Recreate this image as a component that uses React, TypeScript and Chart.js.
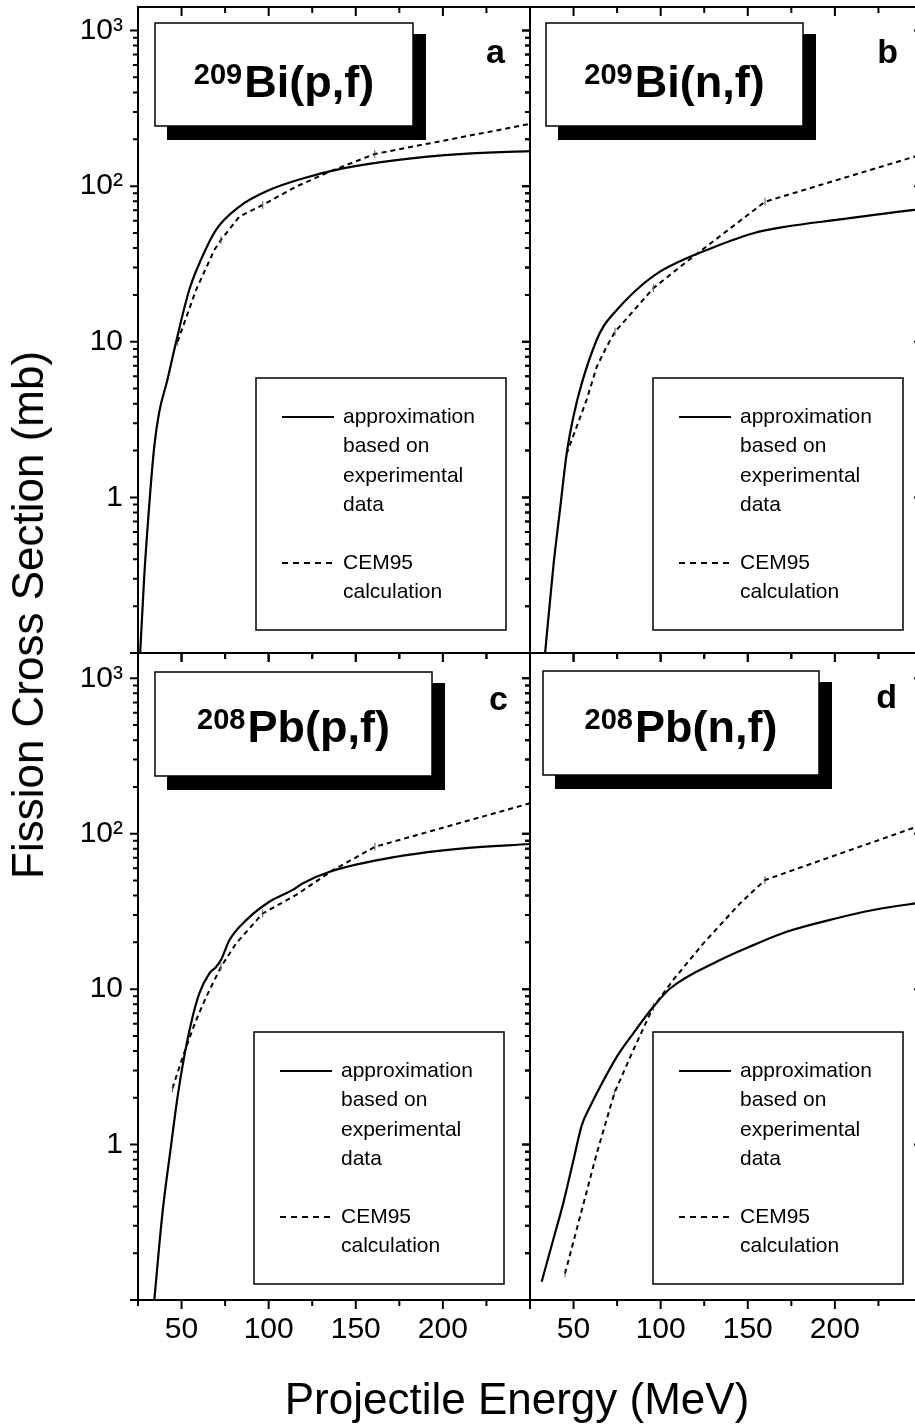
import React, { useEffect, useRef } from 'react';
import { Chart, registerables } from 'chart.js';

Chart.register(...registerables);

const FONT = '"Liberation Sans", Arial, Helvetica, sans-serif';

// ---------- axes ----------
const X_MIN = 25;
const X_MAX = 250;
const X_TICK_VALUES = [25, 50, 75, 100, 125, 150, 175, 200, 225, 250];
const X_TICK_LABELS = ['', '50', '', '100', '', '150', '', '200', '', ''];
const Y_MIN = 0.1;
const Y_MAX_TOP = 1416;
const Y_MAX_BOTTOM = 1455;
const Y_DECADES = [0.1, 1, 10, 100, 1000];
const Y_DECADE_LABELS = ['', '1', '10', '10²', '10³'];
const Y_MANTISSAS = [1, 2, 3, 4, 5, 6, 7, 8, 9];

const LEGEND_APPROX = ['approximation', 'based on', 'experimental', 'data'];
const LEGEND_CEM = ['CEM95', 'calculation'];

// ---------- panel a : 209Bi(p,f) ----------
const aApproxE = [26.2, 28.5, 31.8, 34.3, 37.1, 41.9, 46.7, 54.4, 61.1, 69.8, 83.2, 100.4, 119.6, 142.6, 173.3, 211.7, 250];
const aApproxS = [0.097, 0.3, 1.0, 2.1, 3.5, 5.7, 9.8, 21.5, 33.6, 52.4, 73.9, 94.4, 112, 130, 147, 161, 168];
const aCemE = [47.7, 58.3, 68.8, 72.6, 83.2, 96.6, 115.8, 135, 160.9, 250];
const aCemS = [10, 21.5, 38.9, 45.1, 63.7, 75.7, 99.3, 124, 161, 251];
const aCemMarks = [0, 3, 5, 8];

// ---------- panel b : 209Bi(n,f) ----------
const bApproxE = [33.6, 38.4, 42.2, 46.1, 49.9, 54.7, 63.3, 67.1, 74.8, 86.2, 99.6, 114.9, 126.4, 153.2, 172.3, 201, 246, 250];
const bApproxS = [0.098, 0.36, 0.83, 1.93, 3.3, 5.4, 10.3, 12.5, 16, 21.6, 28.2, 34.4, 38.9, 49.8, 55, 60.7, 70.3, 71];
const bCemE = [46, 51.8, 57.5, 63.3, 69, 73.8, 82.4, 95.8, 114.9, 159.9, 250];
const bCemS = [1.9, 2.85, 4.24, 6.9, 9.3, 11.6, 14.9, 22.1, 32.7, 79.4, 160];
const bCemMarks = [0, 5, 7, 9];

// ---------- panel c : 208Pb(p,f) ----------
const cApproxE = [34.3, 39, 43.9, 47.7, 51.5, 55.4, 60.2, 65.9, 69.8, 72.6, 77.5, 87.1, 100.4, 113.8, 119.7, 135, 173.3, 211.7, 250];
const cApproxS = [0.098, 0.36, 0.97, 2.03, 3.67, 6.0, 9.4, 12.6, 13.9, 15.4, 20.7, 27.8, 36.5, 43.5, 48, 56.9, 71.1, 80.5, 85.9];
const cCemE = [44.8, 49.7, 53.5, 58.3, 64.1, 69.8, 72.6, 81.3, 96.6, 115.8, 136.9, 161, 250];
const cCemS = [2.3, 3.4, 4.5, 6.3, 8.9, 12, 13.9, 19.7, 30.7, 40.4, 58.3, 82.4, 157];
const cCemMarks = [0, 6, 8, 11];

// ---------- panel d : 208Pb(n,f) ----------
const dApproxE = [31.7, 39.4, 44.1, 49.9, 54.7, 59.4, 65.2, 74.8, 84.3, 95.8, 105.4, 134.1, 153.2, 172.3, 201, 222, 246, 250];
const dApproxS = [0.131, 0.27, 0.42, 0.79, 1.33, 1.75, 2.35, 3.67, 5.2, 7.7, 10.1, 15.4, 19.2, 23.4, 28.6, 32.3, 35.6, 36.1];
const dCemE = [45.1, 54.7, 63.3, 73.4, 84.3, 95.8, 107.3, 124.5, 145.5, 159.9, 250];
const dCemS = [0.148, 0.378, 0.877, 2.14, 4.06, 7.7, 11.5, 19.7, 35.6, 50.4, 114];
const dCemMarks = [0, 3, 5, 9];

type PanelCfg = {
  id: string;
  left: number; top: number; w: number; h: number;
  pad: { left: number; top: number; right: number; bottom: number };
  showY: boolean; showX: boolean; yMax: number;
  E1: number[]; S1: number[]; E2: number[]; S2: number[]; marks: number[];
  sup: string; main: string; letter: string;
  box: number[]; textBase: number; letterPos: number[]; legendPos: number[];
};

const PANELS: PanelCfg[] = [
  {
    id: 'a', left: 0, top: 0, w: 540, h: 670,
    pad: { left: 0, top: 7, right: 10, bottom: 17 },
    showY: true, showX: false, yMax: Y_MAX_TOP,
    E1: aApproxE, S1: aApproxS, E2: aCemE, S2: aCemS, marks: aCemMarks,
    sup: '209', main: 'Bi(p,f)', letter: 'a',
    box: [17, 16, 258, 103], textBase: 74, letterPos: [367, 56], legendPos: [118, 371],
  },
  {
    id: 'b', left: 520, top: 0, w: 410, h: 670,
    pad: { left: 10, top: 7, right: 8, bottom: 17 },
    showY: false, showX: false, yMax: Y_MAX_TOP,
    E1: bApproxE, S1: bApproxS, E2: bCemE, S2: bCemS, marks: bCemMarks,
    sup: '209', main: 'Bi(n,f)', letter: 'b',
    box: [16, 16, 257, 103], textBase: 74, letterPos: [368, 56], legendPos: [123, 371],
  },
  {
    id: 'c', left: 0, top: 640, w: 540, h: 785,
    pad: { left: 0, top: 13, right: 10, bottom: 0 },
    showY: true, showX: true, yMax: Y_MAX_BOTTOM,
    E1: cApproxE, S1: cApproxS, E2: cCemE, S2: cCemS, marks: cCemMarks,
    sup: '208', main: 'Pb(p,f)', letter: 'c',
    box: [17, 19, 277, 104], textBase: 70, letterPos: [370, 57], legendPos: [116, 379],
  },
  {
    id: 'd', left: 520, top: 640, w: 410, h: 785,
    pad: { left: 10, top: 13, right: 8, bottom: 0 },
    showY: false, showX: true, yMax: Y_MAX_BOTTOM,
    E1: dApproxE, S1: dApproxS, E2: dCemE, S2: dCemS, marks: dCemMarks,
    sup: '208', main: 'Pb(n,f)', letter: 'd',
    box: [13, 18, 276, 104], textBase: 71, letterPos: [367, 55], legendPos: [123, 379],
  },
];

function makeDeco(p: PanelCfg) {
  return {
    id: 'deco_' + p.id,
    afterDatasetsDraw(chart: any) {
      const { ctx, chartArea: ca, scales } = chart;
      const xs = scales.x;
      const ys = scales.y;
      ctx.save();
      ctx.strokeStyle = '#000';
      ctx.fillStyle = '#000';
      ctx.setLineDash([]);

      // ticks
      ctx.lineWidth = 2;
      ctx.beginPath();
      X_TICK_VALUES.forEach((v) => {
        const px = xs.getPixelForValue(v);
        const len = v % 50 === 0 ? 9 : 6;
        ctx.moveTo(px, ca.top);
        ctx.lineTo(px, ca.top + len);
        ctx.moveTo(px, ca.bottom);
        ctx.lineTo(px, ca.bottom + len);
      });
      Y_DECADES.forEach((d) => {
        Y_MANTISSAS.forEach((m) => {
          const v = d * m;
          if (v > p.yMax) return;
          const py = ys.getPixelForValue(v);
          const len = m === 1 ? 8 : 5;
          ctx.moveTo(ca.left - len, py);
          ctx.lineTo(ca.left, py);
          ctx.moveTo(ca.right - len, py);
          ctx.lineTo(ca.right, py);
        });
      });
      ctx.stroke();

      // frame
      ctx.lineWidth = 2;
      ctx.strokeRect(ca.left, ca.top, ca.right - ca.left, ca.bottom - ca.top);

      // title box with shadow
      const bx = ca.left + p.box[0];
      const by = ca.top + p.box[1];
      const bw = p.box[2];
      const bh = p.box[3];
      ctx.fillStyle = '#000';
      ctx.fillRect(bx + 12, by + 11, bw + 1, bh + 3);
      ctx.fillStyle = '#fff';
      ctx.fillRect(bx, by, bw, bh);
      ctx.lineWidth = 1.5;
      ctx.strokeRect(bx, by, bw, bh);

      ctx.fillStyle = '#000';
      ctx.textAlign = 'left';
      ctx.textBaseline = 'alphabetic';
      const supFont = `bold 29px ${FONT}`;
      const mainFont = `bold 45px ${FONT}`;
      ctx.font = supFont;
      const wSup = ctx.measureText(p.sup).width;
      ctx.font = mainFont;
      const wMain = ctx.measureText(p.main).width;
      const gap = 2;
      const tx = bx + bw / 2 - (wSup + gap + wMain) / 2;
      const base = by + p.textBase;
      ctx.font = supFont;
      ctx.fillText(p.sup, tx, base - 13);
      ctx.font = mainFont;
      ctx.fillText(p.main, tx + wSup + gap, base);

      // panel letter
      ctx.font = `bold 34px ${FONT}`;
      ctx.textAlign = 'right';
      ctx.fillText(p.letter, ca.left + p.letterPos[0], ca.top + p.letterPos[1]);

      // legend
      const lx = ca.left + p.legendPos[0];
      const ly = ca.top + p.legendPos[1];
      ctx.fillStyle = '#fff';
      ctx.fillRect(lx, ly, 250, 252);
      ctx.lineWidth = 1.5;
      ctx.strokeRect(lx, ly, 250, 252);
      ctx.lineWidth = 2;
      ctx.beginPath();
      ctx.moveTo(lx + 26, ly + 39);
      ctx.lineTo(lx + 78, ly + 39);
      ctx.stroke();
      ctx.setLineDash([6, 5]);
      ctx.beginPath();
      ctx.moveTo(lx + 26, ly + 185);
      ctx.lineTo(lx + 78, ly + 185);
      ctx.stroke();
      ctx.setLineDash([]);
      ctx.fillStyle = '#000';
      ctx.font = `21px ${FONT}`;
      ctx.textAlign = 'left';
      ctx.textBaseline = 'middle';
      const rows1 = [39, 68.5, 98, 127];
      LEGEND_APPROX.forEach((t, i) => ctx.fillText(t, lx + 87, ly + rows1[i]));
      const rows2 = [185, 214];
      LEGEND_CEM.forEach((t, i) => ctx.fillText(t, lx + 87, ly + rows2[i]));

      ctx.restore();
    },
  };
}

function makeConfig(p: PanelCfg): any {
  const yTicks: number[] = [];
  const yLabels: string[] = [];
  Y_DECADES.forEach((d, di) => {
    Y_MANTISSAS.forEach((m) => {
      const v = d * m;
      if (v <= p.yMax) {
        yTicks.push(v);
        yLabels.push(m === 1 ? Y_DECADE_LABELS[di] : '');
      }
    });
  });
  const approx = p.E1.map((e, i) => ({ x: e, y: p.S1[i] }));
  const cem = p.E2.map((e, i) => ({ x: e, y: p.S2[i] }));
  return {
    type: 'line',
    data: {
      datasets: [
        {
          label: 'approximation based on experimental data',
          data: approx,
          borderColor: '#000',
          borderWidth: 2.2,
          pointRadius: 0,
          cubicInterpolationMode: 'monotone',
          fill: false,
        },
        {
          label: 'CEM95 calculation',
          data: cem,
          borderColor: '#000',
          borderWidth: 2,
          borderDash: [5, 4],
          tension: 0,
          fill: false,
          pointStyle: 'line',
          rotation: 90,
          pointRadius: p.E2.map((_, i) => (p.marks.includes(i) ? 4 : 0)),
          pointBorderWidth: 1,
          pointBorderColor: '#555',
        },
      ],
    },
    options: {
      responsive: false,
      maintainAspectRatio: false,
      animation: false,
      devicePixelRatio: 1,
      events: [],
      layout: { padding: p.pad },
      plugins: { legend: { display: false }, tooltip: { enabled: false }, title: { display: false } },
      scales: {
        x: {
          type: 'linear',
          min: X_MIN,
          max: X_MAX,
          bounds: 'data',
          display: p.showX,
          grid: { display: false, drawTicks: false },
          border: { display: false },
          ticks: {
            autoSkip: false,
            maxRotation: 0,
            minRotation: 0,
            padding: 12,
            color: '#000',
            font: { family: FONT, size: 30 },
            callback: (_v: any, i: number) => X_TICK_LABELS[i] ?? '',
          },
          afterBuildTicks: (s: any) => {
            s.ticks = X_TICK_VALUES.map((v) => ({ value: v }));
          },
          afterFit: (s: any) => {
            s.height = p.showX ? 125 : 0;
            s.paddingLeft = 0;
            s.paddingRight = 0;
          },
        },
        y: {
          type: 'logarithmic',
          min: Y_MIN,
          max: p.yMax,
          bounds: 'data',
          display: p.showY,
          grid: { display: false, drawTicks: false },
          border: { display: false },
          ticks: {
            autoSkip: false,
            padding: 15,
            color: '#000',
            font: { family: FONT, size: 30 },
            callback: (_v: any, i: number) => yLabels[i] ?? '',
          },
          afterBuildTicks: (s: any) => {
            s.ticks = yTicks.map((v) => ({ value: v }));
          },
          afterFit: (s: any) => {
            s.width = p.showY ? 138 : 0;
            s.paddingTop = 0;
            s.paddingBottom = 0;
          },
        },
      },
    },
    plugins: [makeDeco(p)],
  };
}

function Panel({ p }: { p: PanelCfg }) {
  const ref = useRef<HTMLCanvasElement>(null);
  useEffect(() => {
    if (!ref.current) return;
    const chart = new Chart(ref.current, makeConfig(p));
    return () => chart.destroy();
  }, [p]);
  return (
    <canvas
      ref={ref}
      width={p.w}
      height={p.h}
      style={{ position: 'absolute', left: p.left, top: p.top, width: p.w, height: p.h }}
    />
  );
}

export default function App() {
  return (
    <div
      style={{
        position: 'absolute',
        left: 0,
        top: 0,
        width: 915,
        height: 1425,
        overflow: 'hidden',
        background: '#fff',
      }}
    >
      {PANELS.map((p) => (
        <Panel key={p.id} p={p} />
      ))}
      <div
        style={{
          position: 'absolute',
          left: 27.7,
          top: 615,
          height: 50,
          lineHeight: '50px',
          whiteSpace: 'nowrap',
          fontFamily: FONT,
          fontSize: 44,
          color: '#000',
          transform: 'translate(-50%, -50%) rotate(-90deg)',
        }}
      >
        Fission Cross Section (mb)
      </div>
      <div
        style={{
          position: 'absolute',
          left: 517,
          top: 1374,
          height: 50,
          lineHeight: '50px',
          whiteSpace: 'nowrap',
          fontFamily: FONT,
          fontSize: 44,
          color: '#000',
          transform: 'translateX(-50%)',
        }}
      >
        Projectile Energy (MeV)
      </div>
    </div>
  );
}
